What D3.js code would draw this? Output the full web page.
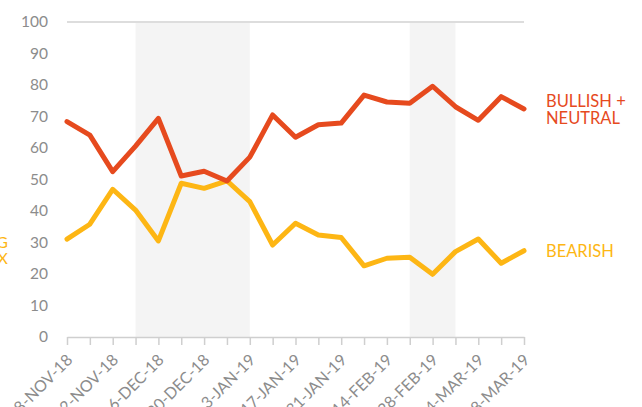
<!DOCTYPE html>
<html>
<head>
<meta charset="utf-8">
<script src="https://cdn.jsdelivr.net/npm/d3@7"></script>
<style>
  body { margin: 0; background: #fff; }
  svg { display: block; font-family: Lato, "Open Sans", sans-serif; }
</style>
</head>
<body>
<svg id="chart" width="642" height="407"></svg>
<script>
const weeks = [
  "2018-11-08", "2018-11-15", "2018-11-22", "2018-11-29", "2018-12-06",
  "2018-12-13", "2018-12-20", "2018-12-27", "2019-01-03", "2019-01-10",
  "2019-01-17", "2019-01-24", "2019-01-31", "2019-02-07", "2019-02-14",
  "2019-02-21", "2019-02-28", "2019-03-07", "2019-03-14", "2019-03-21",
  "2019-03-28"
];
const bullishNeutral = [68.4, 64.1, 52.5, 60.6, 69.4, 51.1, 52.6, 49.5, 57.1, 70.5,
  63.4, 67.4, 67.9, 76.8, 74.6, 74.2, 79.6, 73.1, 68.8, 76.3, 72.4];
const bearish = [31.1, 35.8, 46.9, 40.3, 30.5, 48.8, 47.2, 49.6, 43.0, 29.2,
  36.1, 32.4, 31.6, 22.6, 25.0, 25.3, 19.9, 27.1, 31.1, 23.4, 27.4];
const shaded = [["2018-11-29", "2019-01-03"], ["2019-02-21", "2019-03-07"]];
const yTicks = [0, 10, 20, 30, 40, 50, 60, 70, 80, 90, 100];

const red = "#e64a1e";
const yellow = "#fdb614";
const grey = "#8c8c8c";

const svg = d3.select("#chart");
const dates = weeks.map(d3.isoParse);

const x = d3.scaleUtc()
  .domain(d3.extent(dates))
  .range([67, 524]);
const y = d3.scaleLinear()
  .domain([0, 100])
  .range([337, 22]);

// shaded periods
svg.append("g")
  .selectAll("rect")
  .data(shaded)
  .join("rect")
  .attr("x", (d) => x(d3.isoParse(d[0])))
  .attr("width", (d) => x(d3.isoParse(d[1])) - x(d3.isoParse(d[0])))
  .attr("y", y(100) + 1)
  .attr("height", y(0) - y(100) - 1)
  .attr("fill", "#f4f4f4");

// top gridline
svg.append("line")
  .attr("x1", x.range()[0])
  .attr("x2", x.range()[1])
  .attr("y1", y(100))
  .attr("y2", y(100))
  .attr("stroke", "#d2d2d2")
  .attr("stroke-width", 1.5);

// y axis labels
const yAxis = svg.append("g")
  .attr("transform", `translate(${x.range()[0]},0)`)
  .call(d3.axisLeft(y).tickValues(yTicks).tickSize(0).tickPadding(19));
yAxis.select(".domain").remove();
yAxis.selectAll("text")
  .attr("fill", grey)
  .style("font-size", "15.5px")
  .style("font-family", "Lato, sans-serif");

// x axis
const fmt = d3.utcFormat("%-d-%b-%y");
const xAxis = svg.append("g")
  .attr("transform", `translate(0,${y(0)})`)
  .call(
    d3.axisBottom(x)
      .tickValues(dates)
      .tickSize(8)
      .tickSizeOuter(0)
      .tickFormat((d, i) => (i % 2 === 0 ? fmt(d).toUpperCase() : ""))
  );
xAxis.select(".domain").attr("stroke", "#cfcfcf").attr("stroke-width", 1.5);
xAxis.selectAll(".tick line").attr("stroke", "#cfcfcf").attr("stroke-width", 1.5);
xAxis.selectAll("text")
  .attr("fill", grey)
  .style("font-size", "16px")
  .style("font-family", "Lato, sans-serif")
  .attr("text-anchor", "end")
  .attr("x", 0)
  .attr("y", 0)
  .attr("dy", 0)
  .attr("transform", "translate(6,24) rotate(-45)");

// lines
const line = d3.line()
  .x((d, i) => x(dates[i]))
  .y((d) => y(d));

svg.append("path")
  .datum(bearish)
  .attr("fill", "none")
  .attr("stroke", yellow)
  .attr("stroke-width", 5)
  .attr("stroke-linejoin", "round")
  .attr("stroke-linecap", "round")
  .attr("d", line);

svg.append("path")
  .datum(bullishNeutral)
  .attr("fill", "none")
  .attr("stroke", red)
  .attr("stroke-width", 5)
  .attr("stroke-linejoin", "round")
  .attr("stroke-linecap", "round")
  .attr("d", line);

// series labels
const labels = svg.append("g").style("font-size", "16.5px").style("font-family", "Lato, sans-serif");
labels.append("text")
  .attr("x", 546).attr("y", 107)
  .attr("fill", red)
  .text("BULLISH +");
labels.append("text")
  .attr("x", 546).attr("y", 124)
  .attr("fill", red)
  .text("NEUTRAL");
labels.append("text")
  .attr("x", 546).attr("y", 257)
  .attr("fill", yellow)
  .text("BEARISH");

// cut-off side label on the left edge
const side = svg.append("g").style("font-size", "16px").style("font-family", "Lato, sans-serif");
side.append("text")
  .attr("x", 8).attr("y", 248)
  .attr("text-anchor", "end")
  .attr("fill", yellow)
  .text("BULL-BEAR RATING");
side.append("text")
  .attr("x", 8).attr("y", 264)
  .attr("text-anchor", "end")
  .attr("fill", yellow)
  .text("INDEX");
</script>
</body>
</html>
